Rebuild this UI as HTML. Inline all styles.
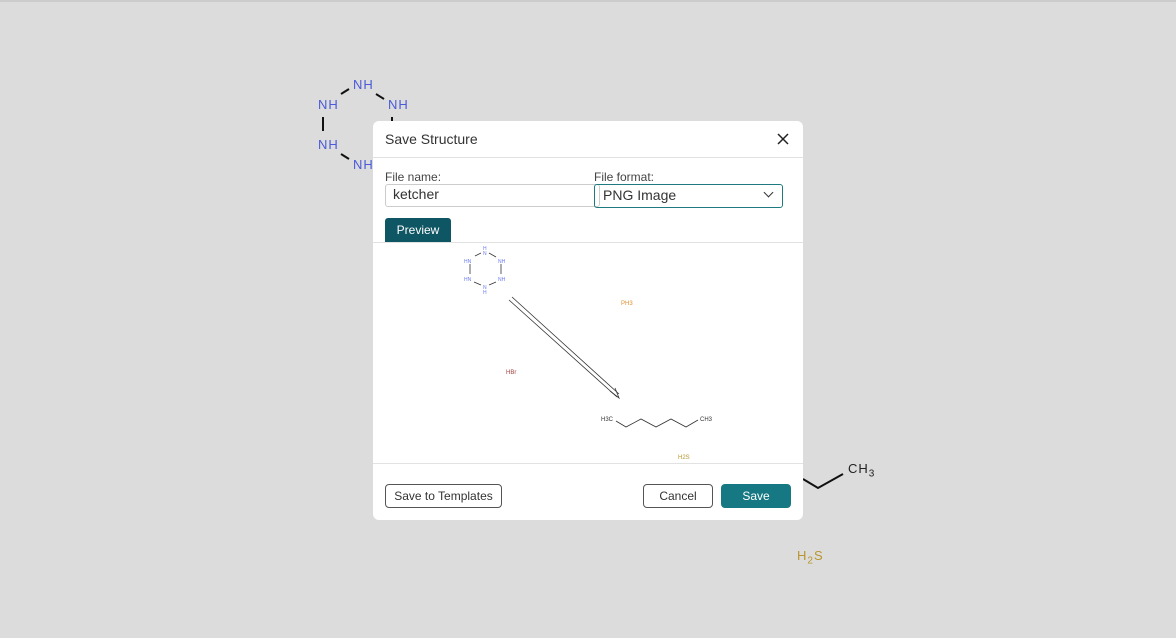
<!DOCTYPE html>
<html><head><style>
body{margin:0;width:1176px;height:638px;background:#dcdcdc;font-family:"Liberation Sans",sans-serif;position:relative;overflow:hidden}
.a{position:absolute}
.nh{position:absolute;color:#4a5ad8;font-size:13px;letter-spacing:1px}
.dlg{position:absolute;left:373px;top:121px;width:430px;height:399px;background:#fff;border-radius:6px}
.btn{position:absolute;border:1px solid #555;border-radius:4px;font-size:12px;color:#333;text-align:center;box-sizing:border-box}
</style></head><body>
<div class="a" style="left:0;top:0;width:1176px;height:2px;background:#ccc"></div>
<svg class="a" style="left:0;top:0" width="1176" height="638">
<g stroke="#111" stroke-width="2">
<line x1="341" y1="94" x2="349" y2="89"/><line x1="376" y1="94" x2="384" y2="99"/>
<line x1="323" y1="117" x2="323" y2="131"/><line x1="341" y1="154" x2="349" y2="159"/>
<line x1="392" y1="117" x2="392" y2="125"/>
<polyline points="803,479 818,488 843,474" fill="none"/>
</g></svg>
<div class="nh" style="left:353px;top:77px">NH</div>
<div class="nh" style="left:318px;top:97px">NH</div>
<div class="nh" style="left:388px;top:97px">NH</div>
<div class="nh" style="left:318px;top:137px">NH</div>
<div class="nh" style="left:353px;top:157px">NH</div>
<div class="a" style="left:848px;top:461px;font-size:13px;color:#222;letter-spacing:1px">CH<sub style="font-size:10px">3</sub></div>
<div class="a" style="left:797px;top:548px;font-size:13px;color:#b8962e;letter-spacing:1px">H<sub style="font-size:10px">2</sub>S</div>
<div class="dlg">
<div class="a" style="left:12px;top:10px;font-size:14px;color:#333">Save Structure</div>
<svg class="a" style="left:404px;top:12px" width="12" height="12"><g stroke="#222" stroke-width="1.5"><line x1="1" y1="1" x2="11" y2="11"/><line x1="11" y1="1" x2="1" y2="11"/></g></svg>
<div class="a" style="left:0;top:36px;width:430px;height:1px;background:#e2e2e2"></div>
<div class="a" style="left:12px;top:49px;font-size:12px;color:#444">File name:</div>
<div class="a" style="left:221px;top:49px;font-size:12px;color:#444">File format:</div>
<div class="a" style="left:12px;top:63px;width:215px;height:23px;border:1px solid #ccc;border-radius:3px;box-sizing:border-box;font-size:14px;color:#333;padding:1px 7px">ketcher</div>
<div class="a" style="left:221px;top:63px;width:189px;height:24px;border:1px solid #1f7a80;border-radius:3px;box-sizing:border-box;font-size:14px;color:#333;padding:2px 8px">PNG Image<span style="position:absolute;right:10px;top:4px;width:6px;height:6px;border-right:1.5px solid #333;border-bottom:1.5px solid #333;transform:rotate(45deg)"></span></div>
<div class="a" style="left:12px;top:97px;width:66px;height:24px;background:#0f5664;border-radius:3px 3px 0 0;color:#fff;font-size:12px;text-align:center;line-height:24px">Preview</div>
<div class="a" style="left:0;top:121px;width:430px;height:1px;background:#e2e2e2"></div>
<div class="a" style="left:0;top:342px;width:430px;height:1px;background:#e2e2e2"></div>
<svg class="a" style="left:0;top:122px" width="430" height="220">
<g stroke="#333" stroke-width="0.8" fill="none">
<line x1="102" y1="13" x2="108" y2="10"/><line x1="116" y1="10" x2="123" y2="14"/>
<line x1="128" y1="21" x2="128" y2="31"/><line x1="123" y1="39" x2="116" y2="42"/>
<line x1="108" y1="42" x2="101" y2="39"/><line x1="97" y1="21" x2="97" y2="31"/>
<line x1="136" y1="57" x2="244" y2="154"/><line x1="139" y1="54" x2="246" y2="151"/>
<polyline points="237,148 246,155 242,145"/>
<polyline points="243,178 253,184 268,176 283,184 298,176 313,184 325,177"/>
</g>
<g font-size="5" fill="#6b7bf0"><text x="110" y="7">H</text><text x="110" y="12">N</text><text x="91" y="20">HN</text><text x="125" y="20">NH</text><text x="91" y="38">HN</text><text x="125" y="38">NH</text><text x="110" y="46">N</text><text x="110" y="51">H</text></g>
<text x="248" y="62" font-size="6" fill="#e09030">PH3</text>
<text x="133" y="131" font-size="6" fill="#a04040">HBr</text>
<text x="228" y="178" font-size="6" fill="#333">H3C</text><text x="327" y="178" font-size="6" fill="#333">CH3</text>
<text x="305" y="216" font-size="6" fill="#b8962e">H2S</text>
</svg>
<div class="btn" style="left:12px;top:363px;width:117px;height:24px;line-height:22px">Save to Templates</div>
<div class="btn" style="left:270px;top:363px;width:70px;height:24px;line-height:22px">Cancel</div>
<div class="btn" style="left:348px;top:363px;width:70px;height:24px;line-height:24px;background:#167882;border:none;color:#fff">Save</div>
</div>
</body></html>
